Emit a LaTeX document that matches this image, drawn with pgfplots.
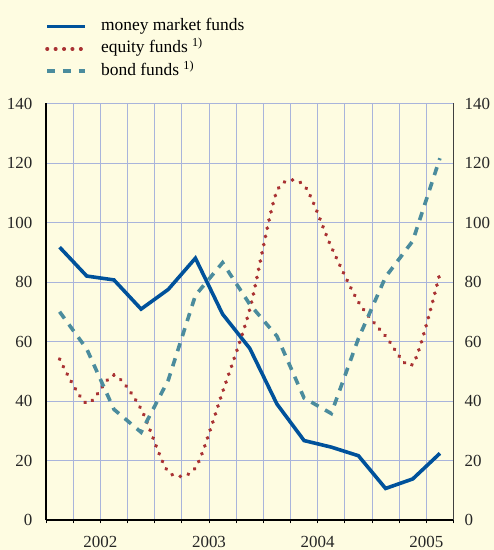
\documentclass[border=0pt]{standalone}
\usepackage{fontspec}
\setmainfont{Liberation Serif}
\usepackage{pgfplots}
\usepackage{pgfplotstable}
\pgfplotsset{compat=1.18}
\definecolor{bgcream}{HTML}{FEFCE1}
\definecolor{gridblue}{HTML}{A9B4DB}
\definecolor{moneyblue}{HTML}{00529B}
\definecolor{equityred}{HTML}{A93233}
\definecolor{bondteal}{HTML}{4B8C9D}

% quarterly values, 2002 Q1 .. 2005 Q3, at mid-quarter
\pgfplotstableread{
q    money equity bond
0.5  91.7  54.1   70.0
1.5  82.0  39.2   57.5
2.5  80.7  48.7   37.2
3.5  70.9  37.3   29.5
4.5  77.5  16.2   47.0
5.5  88.0  17.5   75.5
6.5  69.2  43.0   86.5
7.5  57.7  70.8   72.5
8.5  39.0  110.5  61.8
9.5  26.7  112.5  41.0
10.5 24.5  91.8   35.8
11.5 21.6  73.3   61.0
12.5 10.6  61.8   81.7
13.5 13.8  52.3   93.8
14.5 22.4  83.0   121.6
}\funds

\pgfplotsset{
  fundaxis/.style={
    at={(46bp,30bp)}, anchor=south west,
    scale only axis, width=407.5bp, height=416.5bp,
    xmin=0, xmax=15, ymin=0, ymax=140,
    ytick={0,20,...,140},
    ytick style={draw=none},
    /pgf/number format/assume math mode=true,
    ticklabel style={font=\fontsize{17}{20}\selectfont, text=black!85},
  }
}

\begin{document}
\begin{tikzpicture}
\fill[bgcream] (0bp,0bp) rectangle (494bp,550bp);
\useasboundingbox (0bp,0bp) rectangle (494bp,550bp);

\begin{axis}[
  fundaxis,
  axis x line*=bottom, axis y line*=left,
  axis line style={black, line width=1.2bp},
  xtick={0,...,15}, xticklabels={},
  tick align=outside,
  xtick style={black, line width=0.8bp},
  major tick length=3.5bp,
  extra x ticks={2,6,10,14},
  extra x tick labels={2002,2003,2004,2005},
  extra x tick style={major tick length=0pt, grid=none,
    xticklabel style={anchor=base, yshift=-27bp}},
  grid=major,
  major grid style={gridblue, line width=0.9bp},
  yticklabel style={inner sep=0pt, xshift=-10bp},
  legend style={at={(axis description cs:0,1)}, anchor=south west,
    xshift=-1bp, yshift=24bp, draw=none, fill=none, inner sep=0pt,
    row sep=6.3bp, column sep=14bp,
    font=\fontsize{17.5}{20}\selectfont,
    nodes={inner sep=0pt, text height=12bp, text depth=4bp}},
  legend cell align=left,
  legend image code/.code={\draw[#1] (0bp,0bp) -- (38bp,0bp);},
]
\addplot[moneyblue, line width=3.6bp, line join=miter]
  table[x=q, y=money] {\funds};
\addlegendentry{money market funds}
\addplot[equityred, line width=3.9bp, line cap=round,
  dash pattern=on 0.2bp off 8.2bp, smooth, tension=0.45]
  table[x=q, y=equity] {\funds};
\addlegendentry{equity funds \textsuperscript{1)}}
\addplot[bondteal, line width=3.6bp, dash pattern=on 8.3bp off 7.5bp]
  table[x=q, y=bond] {\funds};
\addlegendentry{bond funds \textsuperscript{1)}}
\end{axis}

\begin{axis}[
  fundaxis,
  axis x line=none, axis y line*=right,
  axis line style={black!75, line width=1.4bp},
  yticklabel style={inner sep=0pt, xshift=11bp},
]
\end{axis}
\end{tikzpicture}
\end{document}
